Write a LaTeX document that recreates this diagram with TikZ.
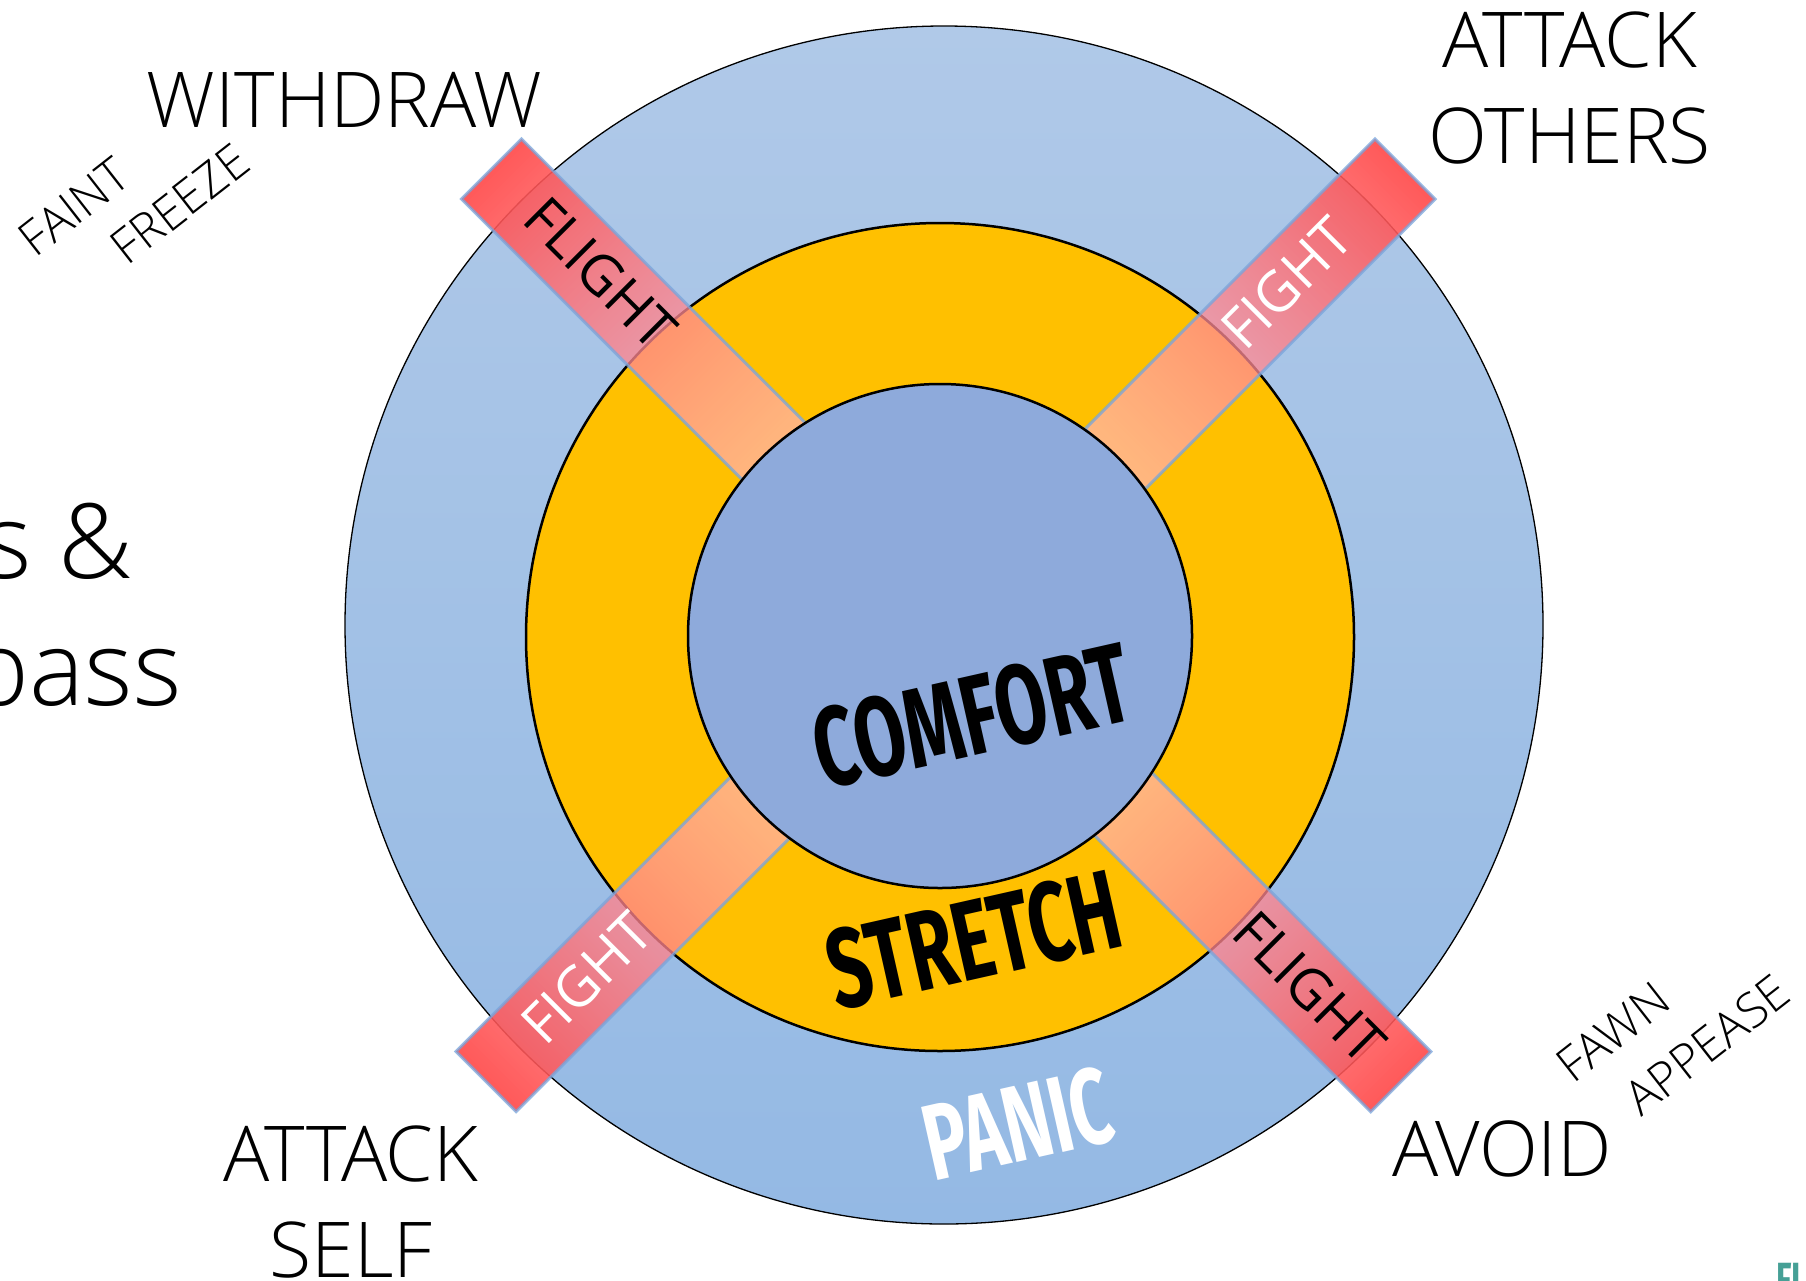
\documentclass[tikz,border=0pt]{standalone}
\usepackage{fontspec}
% a light sans for the labels, with fallbacks
\IfFontExistsTF{Open Sans Light}
  {\setmainfont{Open Sans Light}}
  {\IfFontExistsTF{Fira Sans Light}{\setmainfont{Fira Sans Light}}{\setmainfont{Open Sans}}}
\newfontfamily\barfont{Open Sans}
\newfontfamily\condfont[FakeStretch=0.66]{Fira Sans}
\usetikzlibrary{fadings}

\definecolor{ringblueTop}{RGB}{176,201,232}
\definecolor{ringblueBot}{RGB}{148,185,228}
\definecolor{stretchyellow}{RGB}{255,192,0}
\definecolor{comfortblue}{RGB}{142,170,219}
\definecolor{barred}{RGB}{255,75,75}
\definecolor{barpale}{RGB}{255,180,195}
\definecolor{baredge}{RGB}{120,165,220}
\definecolor{logoteal}{RGB}{70,160,150}

% bars are nearly opaque at their outer end and fade towards the centre
\tikzfading[name=barfade, left color=transparent!8, right color=transparent!35]

\tikzset{
  zonelabel/.style={inner sep=0pt, font=\condfont\bfseries\fontsize{113}{113}\selectfont},
  barlabel/.style={inner sep=0pt, font=\barfont\fontsize{56}{60}\selectfont},
  biglabel/.style={inner sep=0pt, font=\fontsize{77}{96}\selectfont},
  smalllabel/.style={inner sep=0pt, font=\fontsize{48}{50}\selectfont, rotate=38},
  sidelabel/.style={inner sep=0pt, font=\fontsize{104}{127}\selectfont},
  zone/.style={circle, inner sep=0pt, draw=black},
}

\begin{document}
\begin{tikzpicture}[x=1pt, y=-1pt]
\useasboundingbox (0,0) rectangle (1806,1280);
\fill[white] (0,0) rectangle (1806,1280);

% outer ring (panic), middle ring (stretch)
\node[zone, line width=1.3pt, minimum size=1198pt,
      top color=ringblueTop, bottom color=ringblueBot] (panic zone) at (944,625) {};
\node[zone, line width=2.5pt, minimum size=828pt, fill=stretchyellow] (stretch zone) at (940,637) {};

% the four diagonal bars, each drawn from its outer end towards the centre
\foreach \mx/\my/\ang in {491.5/169/-45, 1405/169/-135, 1400.8/1081.7/135, 486/1081.5/45} {
  \begin{scope}[transform canvas={shift={(\mx,\my)}, rotate=\ang}]
    \path[left color=barred, right color=barpale, path fading=barfade]
      (0,-42.5) rectangle (410,42.5);
    \draw[baredge, draw opacity=0.75, line width=3pt] (0,-42.5) rectangle (410,42.5);
  \end{scope}
}

% inner circle (comfort)
\node[zone, line width=2.5pt, minimum size=504pt, fill=comfortblue] (comfort zone) at (940,636) {};

% zone names
\node[zonelabel, rotate=12.7] (comfort) at (972,716) {COMFORT};
\node[zonelabel, rotate=12.7] (stretch) at (974,940) {STRETCH};
\node[zonelabel, white, rotate=12.7, font=\condfont\bfseries\fontsize{108}{108}\selectfont]
  (panic) at (1018,1124) {PANIC};

% labels along the bars
\node[barlabel, rotate=-45] (flight nw) at (601,273) {FLIGHT};
\node[barlabel, white, rotate=45] (fight ne) at (1287,283) {FIGHT};
\node[barlabel, white, rotate=45] (fight sw) at (587,978) {FIGHT};
\node[barlabel, rotate=-45] (flight se) at (1310,987) {FLIGHT};

% responses at the four corners
\node[biglabel, anchor=base] (withdraw) at (344.5,127) {WITHDRAW};
\node[biglabel, align=center] (attack others) at (1569.5,88) {ATTACK\\OTHERS};
\node[biglabel, align=center] (attack self) at (351,1201.5) {ATTACK\\SELF};
\node[biglabel, anchor=base] (avoid) at (1502,1176) {AVOID};

\node[smalllabel] (faint) at (74,207) {FAINT};
\node[smalllabel] (freeze) at (180,204) {FREEZE};
\node[smalllabel] (fawn) at (1613,1032) {FAWN};
\node[smalllabel] (appease) at (1707,1045) {APPEASE};

% title text running off the left edge
\node[sidelabel, anchor=base east] (title a) at (133,578) {s \&};
\node[sidelabel, anchor=base east] (title b) at (182,705) {pass};

% corner mark
\node[inner sep=0pt, anchor=base west, text=logoteal,
      font=\condfont\bfseries\fontsize{48}{48}\selectfont] (logo) at (1776,1296) {FI};
\end{tikzpicture}
\end{document}
